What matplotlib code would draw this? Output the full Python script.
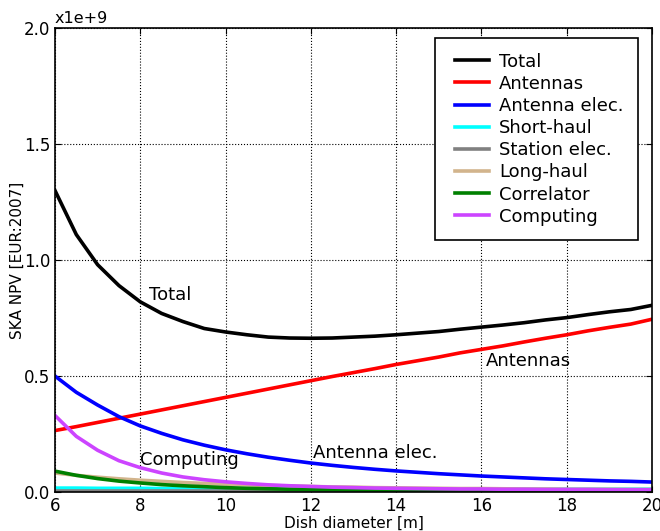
import matplotlib
matplotlib.use("Agg")
import matplotlib.pyplot as plt
from matplotlib.lines import Line2D
from matplotlib.legend_handler import HandlerLine2D

# Dish diameter [m]
diam = [6, 6.5, 7, 7.5, 8, 8.5, 9, 9.5, 10, 10.5, 11, 11.5, 12, 12.5, 13,
        13.5, 14, 14.5, 15, 15.5, 16, 16.5, 17, 17.5, 18, 18.5, 19, 19.5, 20]

# costs in units of 1e9 EUR
total = [1.30, 1.11, 0.98, 0.89, 0.82, 0.77, 0.735, 0.705, 0.69, 0.678, 0.668,
         0.664, 0.663, 0.664, 0.668, 0.672, 0.678, 0.685, 0.692, 0.702, 0.711,
         0.72, 0.73, 0.742, 0.752, 0.765, 0.777, 0.787, 0.805]
antennas = [0.265, 0.282, 0.30, 0.318, 0.336, 0.354, 0.372, 0.39, 0.408, 0.426,
            0.444, 0.462, 0.48, 0.498, 0.515, 0.532, 0.55, 0.566, 0.582, 0.60,
            0.615, 0.63, 0.647, 0.663, 0.678, 0.695, 0.71, 0.724, 0.745]
ant_elec = [0.50, 0.43, 0.375, 0.325, 0.285, 0.253, 0.225, 0.202, 0.182, 0.165,
            0.15, 0.137, 0.125, 0.115, 0.106, 0.098, 0.091, 0.085, 0.079, 0.074,
            0.069, 0.065, 0.061, 0.057, 0.054, 0.051, 0.048, 0.046, 0.043]
short_haul = [0.017, 0.017, 0.016, 0.016, 0.016, 0.015, 0.015, 0.015, 0.015,
              0.014, 0.014, 0.014, 0.014, 0.014, 0.013, 0.013, 0.013, 0.013,
              0.013, 0.013, 0.013, 0.012, 0.012, 0.012, 0.012, 0.012, 0.012,
              0.012, 0.012]
station_elec = [0.004] * 29
long_haul = [0.082, 0.072, 0.064, 0.057, 0.051, 0.046, 0.041, 0.037, 0.034,
             0.031, 0.028, 0.026, 0.024, 0.022, 0.021, 0.019, 0.018, 0.017,
             0.016, 0.015, 0.015, 0.014, 0.013, 0.013, 0.012, 0.012, 0.012,
             0.011, 0.011]
correlator = [0.09, 0.072, 0.058, 0.047, 0.039, 0.032, 0.027, 0.023, 0.019,
              0.016, 0.014, 0.012, 0.011, 0.010, 0.009, 0.008, 0.007, 0.007,
              0.006, 0.006, 0.005, 0.005, 0.005, 0.005, 0.004, 0.004, 0.004,
              0.004, 0.004]
computing = [0.33, 0.24, 0.18, 0.135, 0.105, 0.082, 0.065, 0.053, 0.044, 0.037,
             0.031, 0.027, 0.024, 0.021, 0.019, 0.017, 0.016, 0.015, 0.014,
             0.013, 0.013, 0.012, 0.012, 0.011, 0.011, 0.011, 0.010, 0.010, 0.010]

series = [
    ("Total", total, "black"),
    ("Antennas", antennas, "red"),
    ("Antenna elec.", ant_elec, "blue"),
    ("Short-haul", short_haul, "cyan"),
    ("Station elec.", station_elec, "gray"),
    ("Long-haul", long_haul, "tan"),
    ("Correlator", correlator, "green"),
    ("Computing", computing, "#cc44ff"),
]

fig = plt.figure(figsize=(6.6, 5.31), dpi=100)
ax = fig.add_axes([0.0833, 0.0734, 0.9047, 0.8736])

for name, vals, col in series:
    ax.plot(diam, vals, color=col, lw=2.6, label=name)

ax.set_xlim(6, 20)
ax.set_ylim(0, 2.0)
ax.set_xticks([6, 8, 10, 12, 14, 16, 18, 20])
ax.set_yticks([0.0, 0.5, 1.0, 1.5, 2.0])
ax.set_yticklabels(["0.0", "0.5", "1.0", "1.5", "2.0"])
ax.tick_params(direction="in", length=4, top=True, right=True, labelsize=12)
ax.grid(True, color="black", linestyle=":", linewidth=0.8)
for sp in ax.spines.values():
    sp.set_linewidth(1.2)

ax.set_xlabel("Dish diameter [m]", fontsize=11, labelpad=1)
ax.set_ylabel("SKA NPV [EUR:2007]", fontsize=11)
ax.yaxis.set_label_coords(-0.05, 0.5)
ax.text(0.0, 1.005, "x1e+9", transform=ax.transAxes, fontsize=11.5,
        ha="left", va="bottom")

# inline labels
ax.text(8.2, 0.85, "Total", fontsize=13, va="center")
ax.text(16.1, 0.565, "Antennas", fontsize=13, va="center")
ax.text(12.05, 0.17, "Antenna elec.", fontsize=13, va="center")
ax.text(8.0, 0.14, "Computing", fontsize=13, va="center")

leg = ax.legend(loc="upper right", bbox_to_anchor=(0.9766, 0.9784),
                borderaxespad=0, fontsize=13,
                fancybox=False, framealpha=1, edgecolor="black",
                handlelength=2.55, labelspacing=0.23, borderpad=0.8,
                handletextpad=0.22,
                handler_map={Line2D: HandlerLine2D(marker_pad=0.33, numpoints=2)})
leg.get_frame().set_linewidth(1.2)

fig.savefig("out.png", dpi=100)
